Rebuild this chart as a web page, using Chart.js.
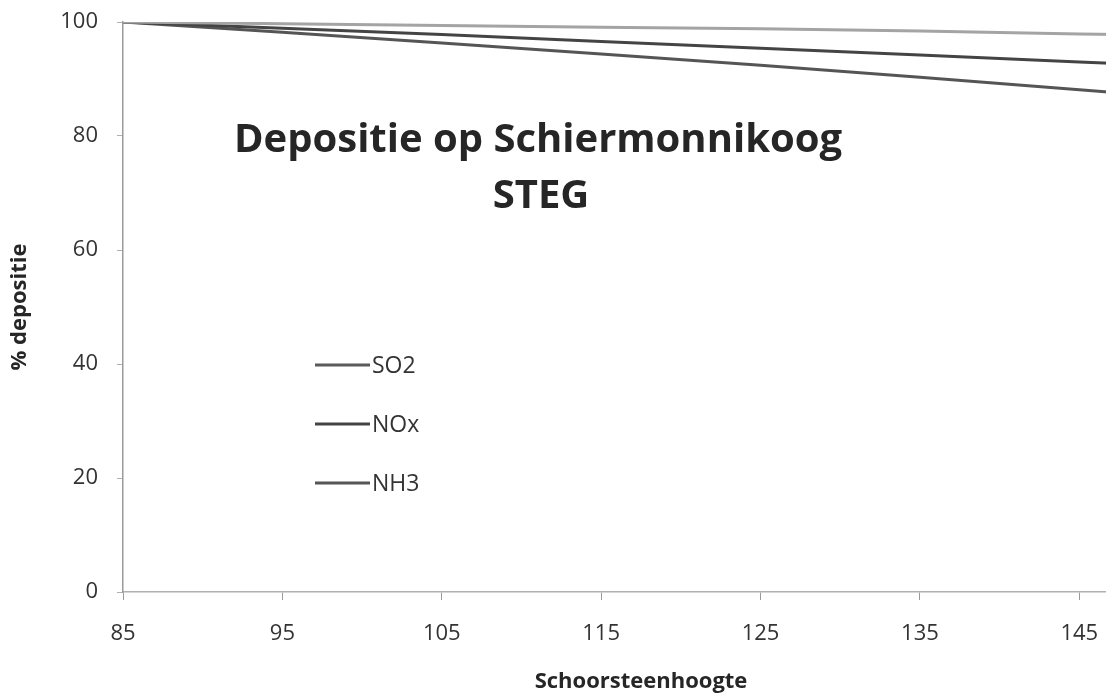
<!DOCTYPE html>
<html>
<head>
<meta charset="utf-8">
<script src="https://cdn.jsdelivr.net/npm/chart.js@4/dist/chart.umd.min.js"></script>
<style>
  html, body { margin: 0; padding: 0; background: #fff; overflow: hidden; }
  #wrap { width: 1200px; height: 696px; }
</style>
</head>
<body>
<div id="wrap"><canvas id="grafica" width="1200" height="696"></canvas></div>
<script>
// schoorsteenhoogte (m)
const hoogtes = [85, 95, 105, 115, 125, 135, 145, 150];
// % depositie per stof
const so2 = [100, 99.7, 99.4, 99.1, 98.8, 98.4, 97.9, 97.7];
const nox = [100, 98.9, 97.8, 96.6, 95.4, 94.2, 93.0, 92.4];
const nh3 = [100, 98.2, 96.3, 94.4, 92.4, 90.3, 88.1, 87.0];
const stoffen = ['SO2', 'NOx', 'NH3'];
const xTicks = [85, 95, 105, 115, 125, 135, 145];
const yTicks = [0, 20, 40, 60, 80, 100];
const titel = ['Depositie op Schiermonnikoog', 'STEG'];

const kleuren = ['#a4a4a4', '#444444', '#555555'];
const lettertype = "'Open Sans', 'Liberation Sans', sans-serif";

const ctx = document.getElementById('grafica').getContext('2d');

// titel en legenda staan binnen het plotvlak
const binnenTekst = {
  id: 'binnenTekst',
  afterDraw(chart) {
    const c = chart.ctx;
    c.save();
    c.fillStyle = '#262626';
    c.textAlign = 'center';
    c.textBaseline = 'alphabetic';
    c.font = 'bold 40px ' + lettertype;
    c.fillText(titel[0], 538, 152);
    c.fillText(titel[1], 541, 208);

    const legY = [365, 424, 483];
    chart.data.datasets.forEach((ds, i) => {
      c.strokeStyle = i === 0 ? '#5a5a5a' : ds.borderColor;
      c.lineWidth = 3;
      c.beginPath();
      c.moveTo(315, legY[i]);
      c.lineTo(370, legY[i]);
      c.stroke();
      c.fillStyle = '#333';
      c.textAlign = 'left';
      c.textBaseline = 'middle';
      c.font = '23px ' + lettertype;
      c.fillText(ds.label, 372, legY[i] + 1);
    });
    c.restore();
  }
};

const reeksen = [so2, nox, nh3].map((waarden, i) => ({
  label: stoffen[i],
  data: hoogtes.map((h, j) => ({ x: h, y: waarden[j] })),
  borderColor: kleuren[i],
  borderWidth: 3,
  pointRadius: 0,
  tension: 0,
  fill: false
}));

new Chart(ctx, {
  type: 'line',
  data: { datasets: reeksen },
  plugins: [binnenTekst],
  options: {
    responsive: false,
    animation: false,
    layout: { padding: { top: 22, right: 41, left: 0, bottom: 0 } },
    plugins: {
      legend: { display: false },
      tooltip: { enabled: false }
    },
    scales: {
      x: {
        type: 'linear',
        min: 85,
        max: 150,
        afterBuildTicks: (s) => { s.ticks = xTicks.map(v => ({ value: v })); },
        afterFit: (s) => { s.height = 104; s.paddingLeft = 0; s.paddingRight = 0; },
        border: { color: '#b0b0b0', width: 1.5 },
        grid: { drawOnChartArea: false, drawTicks: true, tickLength: 8, color: '#9a9a9a' },
        ticks: { color: '#333', font: { family: lettertype, size: 22 }, padding: 21, maxRotation: 0 },
        title: {
          display: true,
          text: 'Schoorsteenhoogte',
          color: '#262626',
          font: { family: lettertype, size: 22, weight: 'bold' },
          padding: { top: 0, bottom: 1 }
        }
      },
      y: {
        min: 0,
        max: 100,
        afterBuildTicks: (s) => { s.ticks = yTicks.map(v => ({ value: v })); },
        afterFit: (s) => { s.width = 123; s.paddingTop = 0; s.paddingBottom = 0; },
        border: { color: '#9a9a9a', width: 1.5 },
        grid: { drawOnChartArea: false, drawTicks: true, tickLength: 6, color: '#b0b0b0' },
        ticks: { color: '#333', font: { family: lettertype, size: 22 }, padding: 19 },
        title: {
          display: true,
          text: '% depositie',
          color: '#262626',
          font: { family: lettertype, size: 22, weight: 'bold' },
          padding: { top: 7, bottom: 0 }
        }
      }
    }
  }
});
</script>
</body>
</html>
